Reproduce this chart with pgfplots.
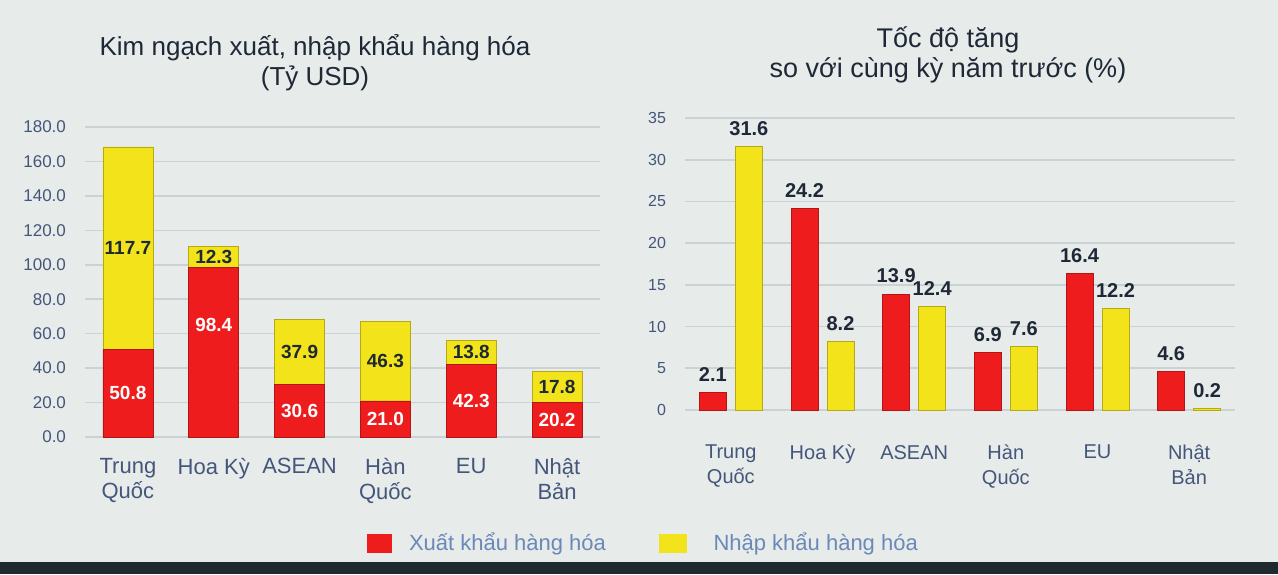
\documentclass[border=0pt]{standalone}
\usepackage{pgfplots}
\pgfplotsset{compat=1.18}
\usepackage{pgfplotstable}
\usepackage{fontspec}
\setmainfont{Liberation Sans}

\definecolor{bg}{HTML}{E7EBEA}
\definecolor{bottomc}{HTML}{1F2A30}
\definecolor{barred}{HTML}{EE1C1C}
\definecolor{baryel}{HTML}{F2E31A}
\definecolor{gridc}{HTML}{CBD2D6}
\definecolor{tickc}{HTML}{44567A}
\definecolor{titlec}{HTML}{1E2836}
\definecolor{legc}{HTML}{6A88B8}

% trade value, billion USD (export, import); expm/impm = height where the value label sits
\pgfplotstableread{
x exp imp expm impm
0 50.8 117.7 25.4 109.65
1 98.4 12.3 65.0 104.55
2 30.6 37.9 15.3 49.55
3 21.0 46.3 10.5 44.15
4 42.3 13.8 21.15 49.2
5 20.2 17.8 10.1 29.1
}\valuetable

% growth vs same period last year, %
\pgfplotstableread{
x exp imp
0 2.1 31.6
1 24.2 8.2
2 13.9 12.4
3 6.9 7.6
4 16.4 12.2
5 4.6 0.2
}\growthtable

\pgfplotsset{
  base/.style={
    scale only axis,
    anchor=south west,
    enlargelimits=false,
    axis line style={draw=none},
    major tick length=0pt,
    ymajorgrids=true,
    grid style={gridc, line width=0.8pt},
    xtick={0,...,5},
    xmin=-0.5, xmax=5.5,
    /pgf/number format/assume math mode=true,
    xticklabel style={align=center, anchor=north, text=tickc},
    yticklabel style={text=tickc},
  },
  leftbox/.style={
    scale only axis, anchor=south west, enlargelimits=false,
    at={(42.5pt,68.5pt)}, width=257.5pt, height=155pt,
    xmin=-0.5, xmax=5.5, ymin=0, ymax=180,
  },
}

\begin{document}
\begin{tikzpicture}[x=1pt,y=1pt]
\fill[bg] (0,0) rectangle (639,287);
\fill[bottomc] (0,0) rectangle (639,6);
\useasboundingbox (0,0) rectangle (639,287);

\node[align=center, text=titlec, font=\fontsize{13}{15}\selectfont] at (157.5,255.5)
  {Kim ngạch xuất, nhập khẩu hàng hóa\\(Tỷ USD)};
\node[align=center, text=titlec, font=\fontsize{13.5}{15}\selectfont] at (474,259.5)
  {Tốc độ tăng\\so với cùng kỳ năm trước (\%)};

% left: stacked values
\begin{axis}[base, leftbox,
  ytick={0,20,...,180},
  ybar stacked, bar width=25pt,
  yticklabel style={font=\fontsize{8.5}{10}\selectfont, xshift=-6pt,
    /pgf/number format/.cd, fixed, fixed zerofill, precision=1},
  xticklabels={{Trung\\Quốc},{Hoa Kỳ},ASEAN,{Hàn\\Quốc},EU,{Nhật\\Bản}},
  xticklabel style={font=\fontsize{11}{12.5}\selectfont, yshift=-7pt},
  legend columns=2,
  legend style={at={(rel axis cs:0.5476,-0.342)}, anchor=west, draw=none, fill=none,
    inner sep=0pt, font=\fontsize{11}{13}\selectfont, text=legc,
    /tikz/every even column/.append style={column sep=24.5pt}},
]
\addplot[fill=barred, draw=barred!75!black, line width=0.3pt,
  legend image code/.code={\fill[barred] (0pt,-4.5pt) rectangle (12pt,4.5pt);}]
  table[x=x, y=exp]{\valuetable};
\addplot[fill=baryel, draw=baryel!75!black, line width=0.3pt,
  legend image code/.code={\fill[baryel] (0pt,-4.5pt) rectangle (13.5pt,4.5pt);}]
  table[x=x, y=imp]{\valuetable};
\legend{\hspace*{6.5pt}Xuất khẩu hàng hóa, \hspace*{11.5pt}Nhập khẩu hàng hóa}
\end{axis}

% value labels inside the stacked segments
\begin{axis}[leftbox, hide axis,
  /pgf/number format/assume math mode=true,
  nodes near coords={\pgfmathprintnumber[fixed,fixed zerofill,precision=1]{\pgfplotspointmeta}},
  nodes near coords style={anchor=center, font=\bfseries\fontsize{9.5}{11}\selectfont},
]
\addplot[draw=none, mark=none, point meta=explicit,
  nodes near coords style={text=white}] table[x=x, y=expm, meta=exp]{\valuetable};
\addplot[draw=none, mark=none, point meta=explicit,
  nodes near coords style={text=titlec}] table[x=x, y=impm, meta=imp]{\valuetable};
\end{axis}

% right: growth rates
\begin{axis}[base,
  at={(342.5pt,82pt)}, width=275pt, height=146pt,
  ymin=0, ymax=35, ytick={0,5,...,35},
  ybar=4.5pt, bar width=13.5pt,
  yticklabel style={font=\fontsize{8}{10}\selectfont, xshift=-6pt},
  xticklabels={{Trung\\Quốc},{Hoa Kỳ},ASEAN,{Hàn\\Quốc},EU,{Nhật\\Bản}},
  xticklabel style={font=\fontsize{10}{12.5}\selectfont, yshift=-14pt},
  nodes near coords={\pgfmathprintnumber[fixed,fixed zerofill,precision=1]{\pgfplotspointmeta}},
  nodes near coords style={text=titlec, font=\bfseries\fontsize{10}{12}\selectfont, yshift=2pt},
]
\addplot[fill=barred, draw=barred!75!black, line width=0.3pt] table[x=x, y=exp]{\growthtable};
\addplot[fill=baryel, draw=baryel!75!black, line width=0.3pt] table[x=x, y=imp]{\growthtable};
\end{axis}
\end{tikzpicture}
\end{document}
